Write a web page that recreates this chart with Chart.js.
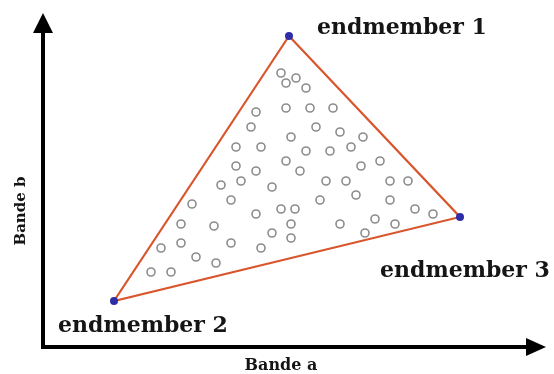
<!DOCTYPE html>
<html>
<head>
<meta charset="utf-8">
<title>Endmembers</title>
<script src="https://cdn.jsdelivr.net/npm/chart.js@4"></script>
<style>
    body { margin: 0; background: #fff; }
    canvas { display: block; }
</style>
</head>
<body>
<canvas id="endmemberChart" width="554" height="374"></canvas>
<script>
// endmembers (Bande a, Bande b)
const endmemberLabels = ["endmember 1", "endmember 2", "endmember 3"];
const endmemberX = [246, 71, 417];
const endmemberY = [311, 46, 130];

// mixed pixels inside the simplex
const sampleX = [238, 253, 243, 263, 213, 243, 267, 290, 208, 273, 297, 248, 320, 193, 218, 308, 263, 287, 193, 243,
    337, 213, 257, 318, 198, 178, 283, 303, 347, 365, 229, 188, 277, 313, 347, 149, 238, 252, 213, 372,
    390, 138, 171, 248, 297, 332, 352, 229, 248, 322, 118, 138, 188, 218, 153, 173, 108, 128];
const sampleY = [274, 269, 264, 259, 235, 239, 239, 239, 220, 220, 215, 210, 210, 200, 200, 200, 196, 196, 181, 186,
    186, 176, 176, 181, 166, 162, 166, 166, 166, 166, 160, 147, 147, 152, 147, 143, 138, 138, 133, 138,
    133, 123, 121, 123, 123, 128, 123, 114, 109, 114, 99, 104, 104, 99, 90, 84, 75, 75];

const axisTitles = ["Bande a", "Bande b"];

document.addEventListener("DOMContentLoaded", () => {
    const samples = sampleX.map((x, i) => ({ x: x, y: sampleY[i] }));
    const corners = endmemberX.map((x, i) => ({ x: x, y: endmemberY[i] }));
    const triangle = corners.concat([corners[0]]);

    // axes with arrows + text labels
    const decorations = {
        id: "decorations",
        afterDatasetsDraw(chart) {
            const ctx = chart.ctx;
            const xs = chart.scales.x;
            const ys = chart.scales.y;
            const ox = xs.getPixelForValue(0);
            const oy = ys.getPixelForValue(0);

            ctx.save();
            ctx.strokeStyle = "#000";
            ctx.fillStyle = "#000";
            ctx.lineWidth = 4;
            ctx.lineCap = "butt";

            ctx.beginPath();
            ctx.moveTo(ox, oy + 2);
            ctx.lineTo(ox, 30);
            ctx.moveTo(ox - 2, oy);
            ctx.lineTo(528, oy);
            ctx.stroke();

            ctx.beginPath();
            ctx.moveTo(ox, 13);
            ctx.lineTo(ox - 10, 33);
            ctx.lineTo(ox + 10, 33);
            ctx.closePath();
            ctx.fill();

            ctx.beginPath();
            ctx.moveTo(546, oy);
            ctx.lineTo(526, oy - 9);
            ctx.lineTo(526, oy + 9);
            ctx.closePath();
            ctx.fill();

            // endmember labels
            const offsets = [[28, -2], [-56, 31], [-80, 60]];
            ctx.fillStyle = "#151515";
            ctx.font = "bold 22px 'DejaVu Serif'";
            ctx.textAlign = "left";
            ctx.textBaseline = "alphabetic";
            endmemberLabels.forEach((label, i) => {
                const px = xs.getPixelForValue(endmemberX[i]);
                const py = ys.getPixelForValue(endmemberY[i]);
                ctx.fillText(label, px + offsets[i][0], py + offsets[i][1]);
            });

            // axis titles
            ctx.font = "bold 16px 'DejaVu Serif'";
            ctx.textAlign = "center";
            ctx.fillText(axisTitles[0], 281, 370);
            ctx.translate(25, 211);
            ctx.rotate(-Math.PI / 2);
            ctx.font = "bold 15px 'DejaVu Serif'";
            ctx.fillText(axisTitles[1], 0, 0);
            ctx.restore();
        }
    };

    const ctx = document.getElementById("endmemberChart").getContext("2d");
    new Chart(ctx, {
        type: "scatter",
        data: {
            datasets: [
                {
                    label: "endmembers",
                    data: corners,
                    pointRadius: 4,
                    pointBackgroundColor: "#2d2da8",
                    pointBorderColor: "#2d2da8",
                    pointBorderWidth: 0
                },
                {
                    label: "simplex",
                    data: triangle,
                    showLine: true,
                    borderColor: "#d9552c",
                    borderWidth: 2.2,
                    pointRadius: 0,
                    tension: 0
                },
                {
                    label: "pixels",
                    data: samples,
                    pointRadius: 4,
                    pointBackgroundColor: "#fff",
                    pointBorderColor: "#8c8c8c",
                    pointBorderWidth: 1.6
                }
            ]
        },
        options: {
            responsive: false,
            animation: false,
            layout: { padding: 0, autoPadding: false },
            plugins: {
                legend: { display: false },
                tooltip: { enabled: false }
            },
            scales: {
                x: { type: "linear", min: -43, max: 511, display: false },
                y: { type: "linear", min: -27, max: 347, display: false }
            }
        },
        plugins: [decorations]
    });
});
</script>
</body>
</html>
